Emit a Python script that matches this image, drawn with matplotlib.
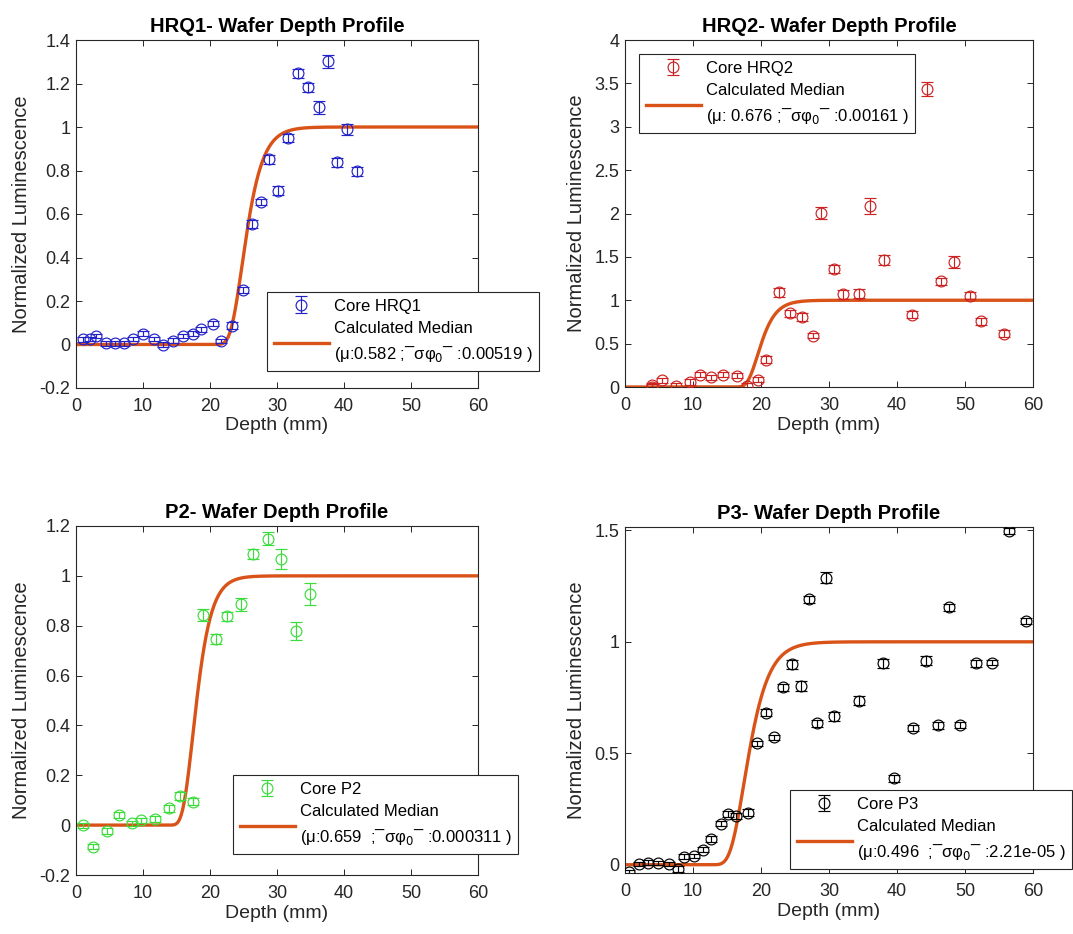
import numpy as np
import matplotlib.pyplot as plt
from matplotlib.ticker import FormatStrFormatter

plt.rcParams['font.family'] = ['Liberation Sans', 'DejaVu Sans']
plt.rcParams['axes.unicode_minus'] = False

# Core HRQ1
hrq1_depth = [1.1, 2.1, 3.0, 4.5, 5.8, 7.2, 8.5, 10.0, 11.6, 13.0, 14.5, 15.9, 17.4,
              18.7, 20.4, 21.6, 23.3, 24.9, 26.3, 27.6, 28.8, 30.2, 31.6, 33.2, 34.7,
              36.3, 37.6, 39.0, 40.4, 41.9]
hrq1_lum = [0.023, 0.026, 0.038, 0.005, 0.005, 0.005, 0.026, 0.05, 0.026, 0.0, 0.018,
            0.04, 0.05, 0.07, 0.096, 0.015, 0.087, 0.25, 0.554, 0.655, 0.852, 0.708,
            0.949, 1.247, 1.183, 1.09, 1.303, 0.837, 0.99, 0.796]
hrq1_err = [0.01, 0.01, 0.01, 0.01, 0.01, 0.01, 0.01, 0.012, 0.01, 0.01, 0.01, 0.01,
            0.012, 0.012, 0.012, 0.01, 0.015, 0.015, 0.02, 0.015, 0.02, 0.02, 0.02,
            0.02, 0.02, 0.03, 0.03, 0.02, 0.025, 0.02]

# Core HRQ2
hrq2_depth = [3.9, 3.9, 5.5, 7.5, 9.5, 11.1, 12.6, 14.4, 16.5, 18.0, 19.6, 20.8, 22.6,
              24.3, 26.1, 27.6, 28.8, 30.8, 32.1, 34.4, 36.1, 38.1, 42.2, 44.4, 46.4,
              48.4, 50.7, 52.4, 55.7]
hrq2_lum = [0.0, 0.02, 0.077, 0.015, 0.058, 0.142, 0.111, 0.142, 0.13, 0.015, 0.084,
            0.315, 1.09, 0.852, 0.806, 0.59, 2.01, 1.36, 1.07, 1.075, 2.09, 1.466,
            0.833, 3.44, 1.217, 1.44, 1.05, 0.756, 0.614]
hrq2_err = [0.03, 0.03, 0.03, 0.03, 0.03, 0.03, 0.03, 0.03, 0.03, 0.03, 0.03, 0.04,
            0.05, 0.04, 0.05, 0.03, 0.07, 0.05, 0.05, 0.05, 0.09, 0.06, 0.04, 0.08,
            0.04, 0.07, 0.04, 0.04, 0.04]

# Core P2
p2_depth = [1.1, 2.5, 4.7, 6.4, 8.3, 9.7, 11.8, 13.9, 15.5, 17.4, 19.0, 20.9, 22.6,
            24.6, 26.4, 28.7, 30.6, 32.9, 34.9]
p2_lum = [0.0, -0.087, -0.023, 0.04, 0.007, 0.02, 0.023, 0.067, 0.116, 0.094, 0.842,
          0.748, 0.837, 0.886, 1.087, 1.149, 1.067, 0.778, 0.928]
p2_err = [0.01, 0.01, 0.012, 0.012, 0.01, 0.01, 0.012, 0.015, 0.015, 0.015, 0.025,
          0.02, 0.02, 0.025, 0.02, 0.025, 0.04, 0.035, 0.045]

# Core P3
p3_depth = [0.6, 2.1, 3.4, 4.8, 6.5, 7.8, 8.7, 10.1, 11.4, 12.6, 14.1, 15.2, 16.3,
            18.1, 19.4, 20.8, 21.9, 23.3, 24.5, 25.9, 27.0, 28.3, 29.5, 30.7, 34.4,
            38.0, 39.5, 42.4, 44.3, 46.0, 47.6, 49.3, 51.6, 53.9, 56.4, 59.0]
p3_lum = [-0.034, 0.004, 0.01, 0.007, 0.004, -0.019, 0.037, 0.04, 0.067, 0.115,
          0.184, 0.228, 0.219, 0.234, 0.545, 0.682, 0.572, 0.796, 0.9, 0.801, 1.19,
          0.634, 1.288, 0.667, 0.736, 0.903, 0.388, 0.613, 0.915, 0.625, 1.154,
          0.627, 0.903, 0.907, 1.497, 1.094]
p3_err = [0.012, 0.01, 0.01, 0.01, 0.01, 0.012, 0.01, 0.01, 0.012, 0.012, 0.012,
          0.012, 0.012, 0.015, 0.012, 0.015, 0.012, 0.015, 0.02, 0.022, 0.015, 0.015,
          0.025, 0.02, 0.02, 0.02, 0.015, 0.015, 0.02, 0.015, 0.015, 0.015, 0.015,
          0.012, 0.015, 0.015]

# fitted bleaching parameters shown in the legends
mu = [0.582, 0.676, 0.659, 0.496]
sigma_phi0 = [0.00519, 0.00161, 0.000311, 2.21e-05]
exposure_s = [3.57e8, 3.29e8, 3.2e8, 2.67e8]

panels = [
    ("HRQ1", hrq1_depth, hrq1_lum, hrq1_err, '#2222c8', (-0.2, 1.4), 0.2,
     "(μ:0.582 ;¯σφ$_0$¯ :0.00519 )"),
    ("HRQ2", hrq2_depth, hrq2_lum, hrq2_err, '#cc2222', (0, 4), 0.5,
     "(μ: 0.676 ;¯σφ$_0$¯ :0.00161 )"),
    ("P2", p2_depth, p2_lum, p2_err, '#3ddc3d', (-0.2, 1.2), 0.2,
     "(μ:0.659  ;¯σφ$_0$¯ :0.000311 )"),
    ("P3", p3_depth, p3_lum, p3_err, 'black', (-0.037, 1.515), 0.5,
     "(μ:0.496  ;¯σφ$_0$¯ :2.21e-05 )"),
]

# axes boxes in pixels: left, top, right, bottom
W, H = 1073, 934
axes_px = [(76, 40, 478, 388), (625, 40, 1033, 387),
           (76, 526, 478, 875), (625, 527, 1033, 873)]
legend_px = [(267, 292), (639, 54), (233, 775), (790, 790)]

fig = plt.figure(figsize=(W / 100, H / 100), dpi=100)
x = np.linspace(0, 60, 600)
frame = '#262626'

for i, (name, d, lum, err, col, ylim, ystep, fit_txt) in enumerate(panels):
    l, t, r, b = axes_px[i]
    ax = fig.add_axes([l / W, 1 - b / H, (r - l) / W, (b - t) / H])

    model = np.exp(-sigma_phi0[i] * exposure_s[i] * np.exp(-mu[i] * x))
    line, = ax.plot(x, model, color='#D95319', lw=2.4, zorder=2)
    eb = ax.errorbar(d, lum, yerr=err, fmt='o', mfc='none', mec=col, ecolor=col,
                     ms=7.8, mew=0.85, elinewidth=0.85, capsize=4.6, capthick=0.85,
                     zorder=3)

    ax.set_xlim(0, 60)
    ax.set_ylim(*ylim)
    ax.set_xticks(np.arange(0, 61, 10))
    lo = np.ceil(ylim[0] / ystep - 1e-9) * ystep
    yt = np.round(np.arange(lo, ylim[1] + 1e-9, ystep), 3) + 0.0
    ax.set_yticks(yt)
    ax.yaxis.set_major_formatter(FormatStrFormatter('%g'))
    ax.tick_params(direction='in', top=True, right=True, length=4, width=0.7,
                   labelsize=13, colors=frame)
    ax.tick_params(axis='x', pad=7)
    ax.tick_params(axis='y', pad=4)
    for s in ax.spines.values():
        s.set_color(frame)
        s.set_linewidth(0.8)

    ax.set_title(f"{name}- Wafer Depth Profile", fontsize=14.5, fontweight='bold',
                 color='black', pad=6)
    ax.set_xlabel("Depth (mm)", fontsize=14, color=frame, labelpad=2)
    ax.set_ylabel("Normalized Luminescence", fontsize=14.5, color=frame, labelpad=6)

    lx, ly = legend_px[i]
    leg = ax.legend([eb, line], [f"Core {name}", "Calculated Median\n" + fit_txt],
                    loc='upper left', bbox_to_anchor=(lx / W, 1 - ly / H),
                    bbox_transform=fig.transFigure, borderaxespad=0,
                    fontsize=12, frameon=True, fancybox=False, framealpha=1,
                    edgecolor=frame, handlelength=3.3, handletextpad=0.3,
                    labelspacing=0.45, borderpad=0.4)
    for txt in leg.get_texts():
        txt.set_linespacing(1.55)
    leg.get_frame().set_linewidth(0.8)

fig.savefig("out.png", dpi=100)
